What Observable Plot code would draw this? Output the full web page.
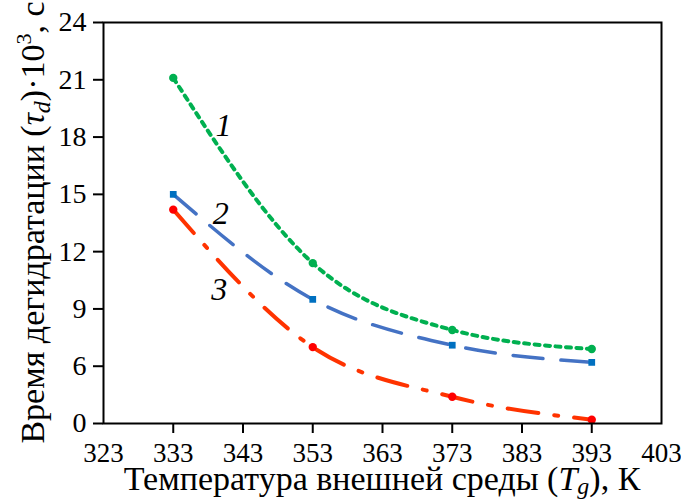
<!DOCTYPE html>
<html><head><meta charset="utf-8">
<script src="https://cdn.jsdelivr.net/npm/d3@7"></script>
<script src="https://cdn.jsdelivr.net/npm/@observablehq/plot@0.6"></script>
<style>body{margin:0;background:#fff} svg{display:block} svg text, svg tspan{font-family:"Liberation Serif", serif}</style>
</head><body><div id="chart"></div>
<script>
// Data (y values in the axis' own units; the lowest tick is labelled "0")
const temperatures = [333, 353, 373, 393];
const series1 = [21.1, 11.4, 7.9, 6.9];   // curve 1 (green, dotted)
const series2 = [15.0, 9.5, 7.1, 6.2];    // curve 2 (blue, dashed)
const series3 = [14.2, 7.0, 4.4, 3.2];    // curve 3 (red, dash-dot)
const xTicks = [323, 333, 343, 353, 363, 373, 383, 393, 403];
const xTickMarks = [333, 343, 353, 363, 373, 383, 393];
const yTicks = [3, 6, 9, 12, 15, 18, 21, 24];
const yTickLabels = ["0", "6", "9", "12", "15", "18", "21", "24"];
const curveLabels = ["1", "2", "3"];
const curveLabelT = [340.2, 339.8, 339.6];
const curveLabelV = [18.6, 14.0, 10.0];

const rows = s => temperatures.map((t, i) => ({t, v: s[i]}));
const labels = curveLabels.map((k, i) => ({k, t: curveLabelT[i], v: curveLabelV[i]}));

const W = 681, H = 501, mL = 103, mR = 20, mT = 22, mB = 78;
const FONT = "Liberation Serif";

const plot = Plot.plot({
  width: W, height: H,
  marginLeft: mL, marginRight: mR, marginTop: mT, marginBottom: mB,
  style: {fontFamily: FONT, fontSize: "28px", color: "#000", background: "#fff", overflow: "visible"},
  x: {domain: [323, 403], label: null},
  y: {domain: [3, 24], label: null},
  marks: [
    Plot.axisX({ticks: xTicks, tickSize: 0, tickPadding: 19, fontSize: 27}),
    Plot.axisX({ticks: xTickMarks, tickSize: 10, strokeWidth: 2, text: null}),
    Plot.axisY({ticks: yTicks, tickSize: 10, tickPadding: 7, strokeWidth: 2, fontSize: 28,
      tickFormat: d => yTickLabels[yTicks.indexOf(d)]}),
    Plot.line(rows(series1), {x: "t", y: "v", curve: "monotone-x", stroke: "#00b050", strokeWidth: 4, strokeDasharray: "5,5.5"}),
    Plot.line(rows(series2), {x: "t", y: "v", curve: "monotone-x", stroke: "#4472c4", strokeWidth: 3.5, strokeDasharray: "30,18"}),
    Plot.line(rows(series3), {x: "t", y: "v", curve: "monotone-x", stroke: "#ff3300", strokeWidth: 4, strokeDasharray: "31,16,4,16"}),
    Plot.dot(rows(series1), {x: "t", y: "v", r: 4.2, fill: "#00b050"}),
    Plot.dot(rows(series2), {x: "t", y: "v", r: 3.8, symbol: "square", fill: "#0070c0"}),
    Plot.dot(rows(series3), {x: "t", y: "v", r: 4.2, fill: "#ff0000"}),
    Plot.text(labels, {x: "t", y: "v", text: "k", fontSize: 32, fontStyle: "italic", fill: "#000"}),
    Plot.frame({stroke: "#000", strokeWidth: 2})
  ]
});

const svg = d3.select(plot);
svg.attr("font-family", FONT);
const cx = mL + (W - mL - mR) / 2;
const cy = mT + (H - mT - mB) / 2;

const xt = svg.append("text")
  .attr("x", cx).attr("y", 490)
  .attr("text-anchor", "middle")
  .attr("font-family", FONT)
  .attr("font-size", 34).attr("fill", "#000");
xt.append("tspan").text("Температура внешней среды (");
xt.append("tspan").attr("font-style", "italic").text("T");
xt.append("tspan").attr("font-style", "italic").attr("font-size", 24).attr("dy", 4).text("g");
xt.append("tspan").attr("dy", -4).text("), К");

const yt = svg.append("text")
  .attr("transform", `translate(44,${cy}) rotate(-90)`)
  .attr("text-anchor", "middle")
  .attr("font-family", FONT)
  .attr("font-size", 34).attr("fill", "#000");
yt.append("tspan").text("Время дегидратации (");
yt.append("tspan").attr("font-style", "italic").text("τ");
yt.append("tspan").attr("font-style", "italic").attr("font-size", 24).attr("dy", 6).text("d");
yt.append("tspan").attr("dy", -6).text(")·10");
yt.append("tspan").attr("font-size", 22).attr("dy", -13).text("3");
yt.append("tspan").attr("dy", 13).text(", с");

document.getElementById("chart").appendChild(plot);
</script>
</body></html>
